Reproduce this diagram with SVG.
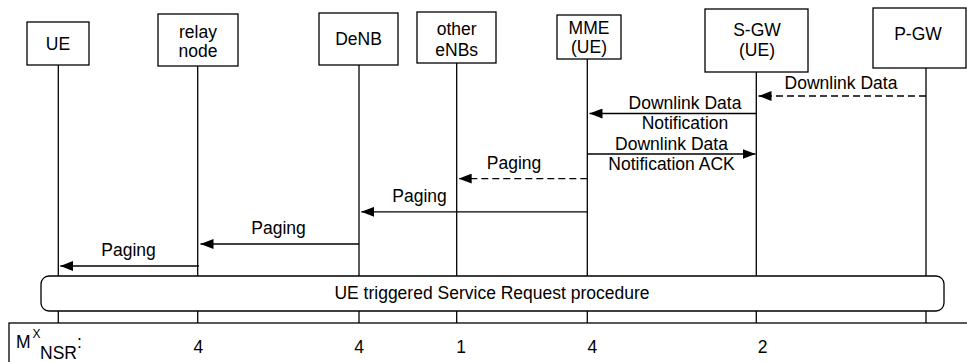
<svg xmlns="http://www.w3.org/2000/svg" width="967" height="362" viewBox="0 0 967 362">
  <style>
    text { font-family: "Liberation Sans", Arial, Helvetica, sans-serif; font-size: 17.5px; fill: #000; }
    .c { text-anchor: middle; }
    .box { fill: #fff; stroke: #000; stroke-width: 1.3; }
    .life { stroke: #000; stroke-width: 1.3; fill: none; }
    .msg { stroke: #000; stroke-width: 1.3; fill: none; marker-end: url(#ah); }
    .dash { stroke-dasharray: 7 4; }
  </style>
  <defs>
    <marker id="ah" viewBox="0 0 13 10" refX="13" refY="5" markerWidth="13" markerHeight="10" orient="auto" markerUnits="userSpaceOnUse">
      <path d="M0,0 L13,5 L0,10 z" fill="#000"/>
    </marker>
  </defs>
  <rect width="967" height="362" fill="#fff"/>

  <g id="node-ue">
    <line class="life" x1="58.3" y1="65" x2="58.3" y2="323"/>
    <rect class="box" x="27" y="22" width="62" height="43"/>
    <text class="c" x="58" y="49.5">UE</text>
  </g>
  <g id="node-relay">
    <line class="life" x1="197.7" y1="66" x2="197.7" y2="323"/>
    <rect class="box" x="158" y="14" width="80" height="52"/>
    <text class="c" x="198" y="37.5">relay</text>
    <text class="c" x="198" y="57">node</text>
  </g>
  <g id="node-denb">
    <line class="life" x1="359" y1="65" x2="359" y2="323"/>
    <rect class="box" x="319" y="13" width="79" height="52"/>
    <text class="c" x="358.5" y="45">DeNB</text>
  </g>
  <g id="node-other">
    <line class="life" x1="456.7" y1="63" x2="456.7" y2="323"/>
    <rect class="box" x="417" y="12" width="79" height="51"/>
    <text class="c" x="456.7" y="35">other</text>
    <text class="c" x="456.7" y="55.5">eNBs</text>
  </g>
  <g id="node-mme">
    <line class="life" x1="587.3" y1="59" x2="587.3" y2="323"/>
    <rect class="box" x="557" y="15" width="64" height="44"/>
    <text class="c" x="589" y="33.5">MME</text>
    <text class="c" x="589" y="53">(UE)</text>
  </g>
  <g id="node-sgw">
    <line class="life" x1="756.3" y1="72" x2="756.3" y2="323"/>
    <rect class="box" x="705" y="9" width="103" height="63"/>
    <text class="c" x="757" y="36">S-GW</text>
    <text class="c" x="757" y="56">(UE)</text>
  </g>
  <g id="node-pgw">
    <line class="life" x1="926" y1="68" x2="926" y2="323"/>
    <rect class="box" x="873" y="8" width="93" height="60"/>
    <text class="c" x="918" y="39.5">P-GW</text>
  </g>

  <g id="connectors">
    <line class="msg dash" x1="926" y1="96" x2="758.5" y2="96"/>
    <text class="c" x="841" y="89">Downlink Data</text>

    <line class="msg" x1="756.3" y1="113.5" x2="589.5" y2="113.5"/>
    <text class="c" x="685" y="109">Downlink Data</text>
    <text class="c" x="685" y="129">Notification</text>

    <line class="msg" x1="587.3" y1="154" x2="755.5" y2="154"/>
    <text class="c" x="671.5" y="149.5">Downlink Data</text>
    <text class="c" x="671.5" y="170">Notification ACK</text>

    <line class="msg dash" x1="587.3" y1="178.6" x2="458.7" y2="178.6"/>
    <text class="c" x="514" y="169">Paging</text>

    <line class="msg" x1="587.3" y1="211.8" x2="361.3" y2="211.8"/>
    <text class="c" x="419.6" y="202">Paging</text>

    <line class="msg" x1="359" y1="244" x2="200.5" y2="244"/>
    <text class="c" x="278.6" y="234.3">Paging</text>

    <line class="msg" x1="199" y1="266" x2="60.3" y2="266"/>
    <text class="c" x="128.6" y="256.4">Paging</text>
  </g>

  <g id="procedure">
    <rect class="box" x="41" y="276" width="903" height="35" rx="8" ry="8"/>
    <text class="c" x="492" y="299">UE triggered Service Request procedure</text>
  </g>

  <g id="counts">
    <rect x="9" y="323" width="970" height="50" fill="none" stroke="#000" stroke-width="1.3"/>
    <text x="16" y="348">M<tspan x="32.5" y="338" font-size="12">X</tspan><tspan x="40" y="359">NSR</tspan><tspan x="77" y="348">:</tspan></text>
    <text class="c" x="198.3" y="353">4</text>
    <text class="c" x="359" y="353">4</text>
    <text class="c" x="461" y="353">1</text>
    <text class="c" x="592.3" y="353">4</text>
    <text class="c" x="762.5" y="353">2</text>
  </g>
</svg>
